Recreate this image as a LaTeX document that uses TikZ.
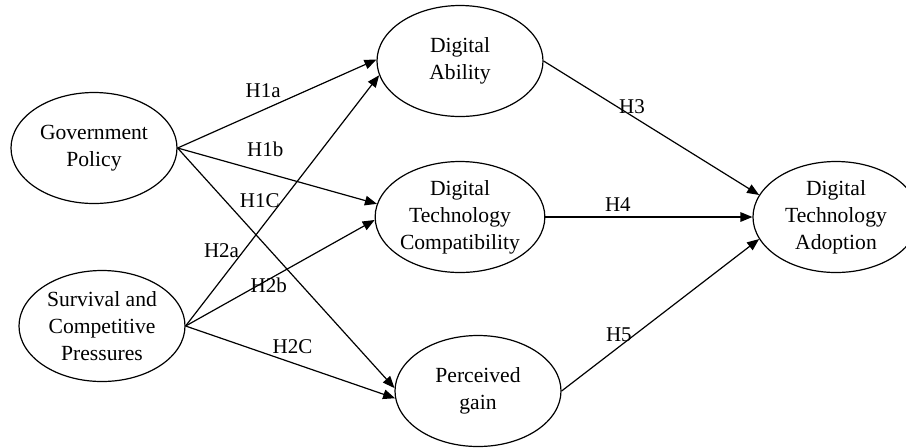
\documentclass[tikz,border=0pt]{standalone}
\usepackage{fontspec}
\setmainfont{Liberation Serif}
\usetikzlibrary{arrows.meta,shapes.geometric}

\begin{document}
\begin{tikzpicture}[
				x=0.5pt, y=-0.5pt,
				latent/.style={ellipse, draw, line width=0.6pt, inner sep=0pt,
					minimum width=83pt, minimum height=55.5pt, align=center,
					font=\fontsize{10.8}{13.5}\selectfont},
				rel/.style={line width=0.6pt, -{Triangle[length=6pt, width=4.8pt]}},
				hyp/.style={inner sep=1pt, font=\fontsize{10.5}{12}\selectfont}
			]
			\useasboundingbox (0,0) rectangle (906,447);

			% constructs
			\node[latent] (gp)  at (94,148)  {Government\\Policy};
			\node[latent] (scp) at (102,326) {Survival and\\Competitive\\Pressures};
			\node[latent] (da)  at (460,61)  {Digital\\Ability};
			\node[latent] (dtc) at (460,217) {Digital\\Technology\\Compatibility};
			\node[latent] (pg)  at (478,391) {Perceived\\gain};
			\node[latent] (dta) at (836,217) {Digital\\Technology\\Adoption};

			% hypotheses H1
			\draw[rel] (gp.east) -- node[hyp, pos=.43, above=5pt] {H1a} (da.179);
			\draw[rel] (gp.east) -- node[hyp, pos=.44, above=6.5pt] {H1b} (dtc.171);
			\draw[rel] (gp.east) -- node[hyp, pos=.22, right=6pt] {H1C} (pg.178);

			% hypotheses H2
			\draw[rel] (scp.east) -- node[hyp, pos=.30, left=1pt] {H2a} (da.190);
			\draw[rel] (scp.east) -- node[hyp, pos=.44, below=-2pt] {H2b} (dtc.182);
			\draw[rel] (scp.east) -- node[hyp, pos=.51, above=3.5pt] {H2C} (pg.185);

			% mediators to adoption
			\draw[rel] (da.east) -- node[hyp, pos=.41, above] {H3} (dta.164);
			\draw[rel] (dtc.east) -- node[hyp, pos=.35, above=1.5pt] {H4} (dta.west);
			\draw[rel] (pg.east) -- node[hyp, pos=.29, above=1.5pt] {H5} (dta.196);
		\end{tikzpicture}
\end{document}
